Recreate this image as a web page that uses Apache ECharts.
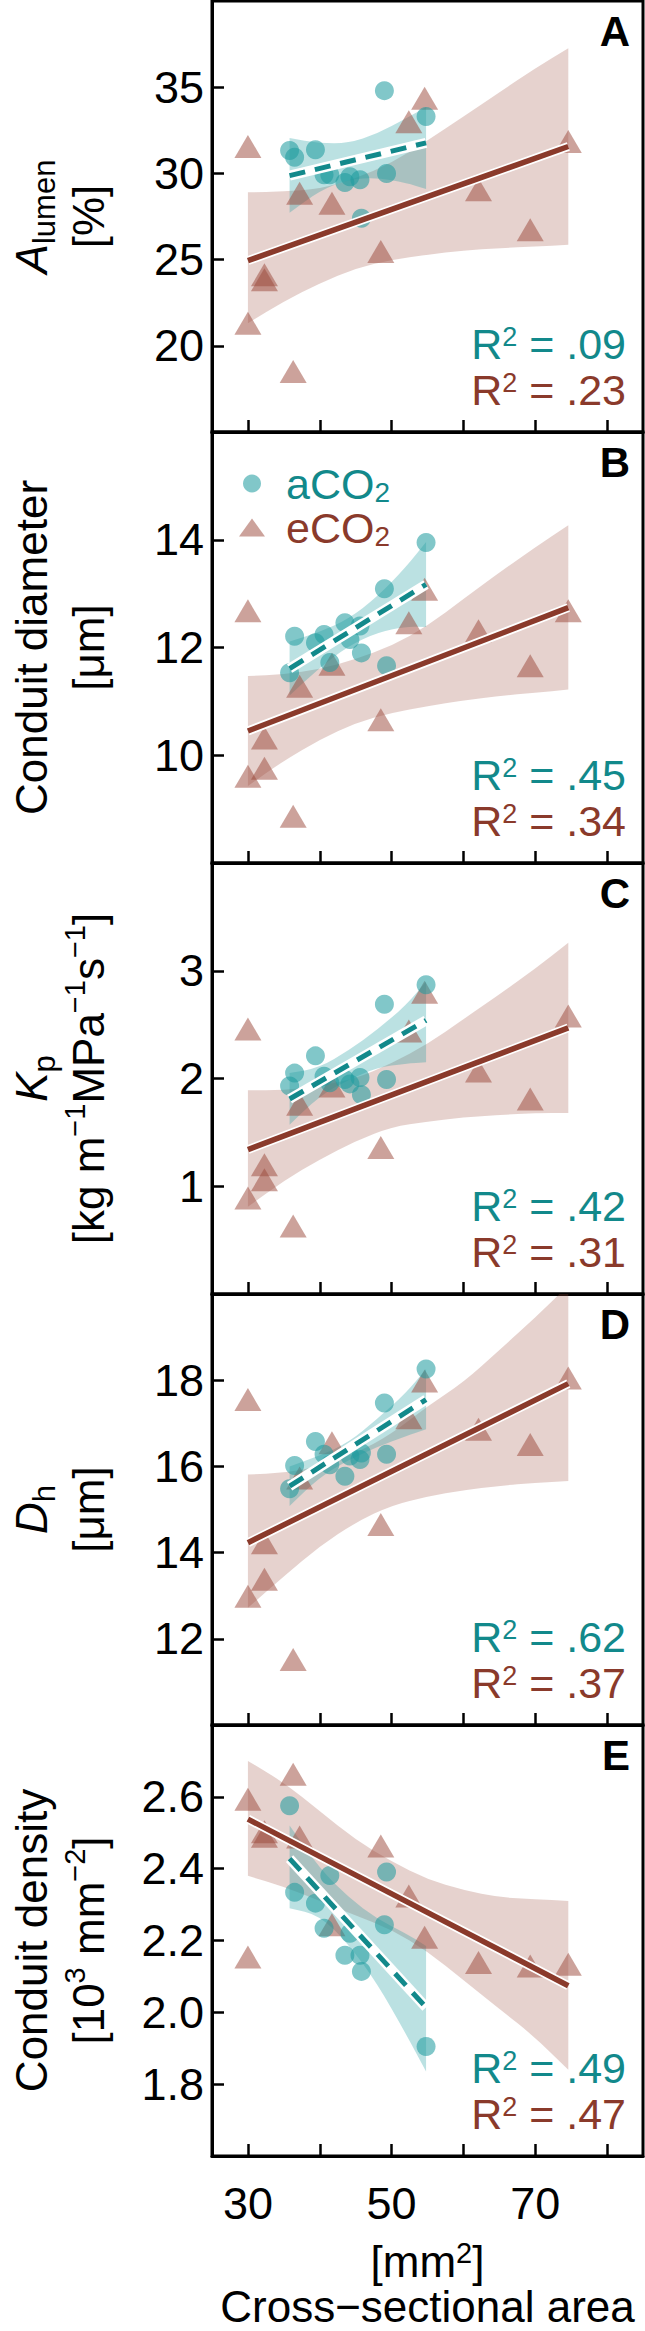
<!DOCTYPE html>
<html><head><meta charset="utf-8">
<script src="https://cdn.jsdelivr.net/npm/echarts@6/dist/echarts.min.js"></script>
<style>html,body{margin:0;padding:0;background:#fff}#c{width:645px;height:2331px}</style>
</head><body><div id="c"></div>
<script>
// ---- data ----
const aX = [35.8, 36.5, 39.4, 40.6, 41.4, 43.5, 44.2, 45.6, 45.8, 49.0, 49.3, 54.8];
const eX = [30.0, 30.0, 32.3, 32.3, 36.3, 37.2, 41.7, 48.5, 52.4, 54.6, 62.1, 69.3, 74.6];

const aY_A = [31.33, 30.94, 31.37, 29.92, 29.92, 29.47, 29.8, 29.63, 27.4, 34.8, 30.0, 33.3];
const eY_A = [31.56, 21.31, 24.12, 23.83, 18.51, 28.85, 28.27, 25.47, 33.0, 34.36, 29.05, 26.73, 31.85];
const aY_B = [11.53, 12.21, 12.09, 12.24, 11.72, 12.46, 12.15, 12.40, 11.90, 13.09, 11.66, 13.95];
const eY_B = [12.68, 9.61, 10.32, 9.76, 8.87, 11.28, 11.69, 10.66, 12.46, 13.08, 12.31, 11.66, 12.68];
const aY_C = [1.93, 2.05, 2.21, 2.02, 1.96, 1.99, 1.95, 2.01, 1.85, 2.69, 1.99, 2.87];
const eY_C = [2.46, 0.89, 1.20, 1.06, 0.63, 1.76, 1.93, 1.36, 2.44, 2.80, 2.07, 1.81, 2.58];
const aY_D = [15.48, 16.02, 16.58, 16.28, 16.04, 15.77, 16.24, 16.16, 16.31, 17.47, 16.28, 18.26];
const eY_D = [17.55, 12.99, 14.23, 13.38, 11.52, 15.73, 16.55, 14.65, 17.13, 17.98, 16.86, 16.51, 18.05];
const aY_E = [2.575, 2.334, 2.304, 2.234, 2.381, 2.159, 2.22, 2.159, 2.114, 2.244, 2.391, 1.905];
const eY_E = [2.593, 2.154, 2.503, 2.49, 2.663, 2.488, 2.244, 2.463, 2.324, 2.209, 2.139, 2.129, 2.134];

// fitted lines (ends)
const aFitX = [35.8, 54.8];
const eFitX = [30.0, 74.6];
const aFit_A = [29.87, 31.77], eFit_A = [24.94, 31.56];
const aFit_B = [11.61, 13.17], eFit_B = [10.45, 12.74];
const aFit_C = [1.81, 2.54],   eFit_C = [1.34, 2.47];
const aFit_D = [15.54, 17.55], eFit_D = [14.23, 17.92];
const aFit_E = [2.428, 2.014], eFit_E = [2.538, 2.074];

// confidence bands, edges
const aBandX = [35.8, 40, 44, 48, 52, 54.8];
const eBandX = [30, 35, 40, 45, 50, 55, 60, 65, 70, 74.6];
const aLo_A = [27.72, 29.0, 29.65, 29.75, 29.45, 29.1],  aHi_A = [32.05, 31.75, 31.75, 32.3, 33.2, 33.85];
const eLo_A = [21.31, 22.57, 23.63, 24.5, 24.99, 25.28, 25.53, 25.66, 25.76, 25.86];
const eHi_A = [28.9, 28.95, 29.1, 29.7, 30.6, 31.9, 33.3, 34.7, 36.1, 37.26];
const aLo_B = [11.11, 11.63, 12.03, 12.28, 12.39, 12.38], aHi_B = [12.11, 12.29, 12.53, 12.94, 13.49, 13.96];
const eLo_B = [9.43, 9.9, 10.29, 10.6, 10.79, 10.91, 11.02, 11.1, 11.16, 11.22];
const eHi_B = [11.47, 11.5, 11.6, 11.78, 12.03, 12.4, 12.9, 13.39, 13.86, 14.27];
const aLo_C = [1.57, 1.84, 1.99, 2.1, 2.14, 2.15], aHi_C = [2.05, 2.1, 2.26, 2.45, 2.68, 2.9];
const eLo_C = [0.81, 1.05, 1.25, 1.42, 1.55, 1.6, 1.64, 1.66, 1.68, 1.68];
const eHi_C = [1.89, 1.89, 1.93, 2.0, 2.14, 2.32, 2.55, 2.78, 3.02, 3.26];
const aLo_D = [15.08, 15.75, 16.15, 16.45, 16.7, 16.86], aHi_D = [16.0, 16.25, 16.55, 17.1, 17.7, 18.26];
const eLo_D = [12.72, 13.45, 14.15, 14.7, 15.1, 15.3, 15.45, 15.55, 15.62, 15.66];
const eHi_D = [15.81, 15.85, 16.0, 16.3, 16.75, 17.4, 17.95, 18.7, 19.45, 20.2];
const aLo_E = [2.29, 2.27, 2.19, 2.08, 1.94, 1.835], aHi_E = [2.52, 2.40, 2.32, 2.26, 2.22, 2.185];
const eLo_E = [2.38, 2.35, 2.31, 2.27, 2.23, 2.17, 2.09, 2.01, 1.93, 1.84];
const eHi_E = [2.70, 2.64, 2.56, 2.48, 2.42, 2.37, 2.34, 2.32, 2.315, 2.31];

const yMin = [15, 8, 0, 10, 1.6];
const yMax = [40, 16, 4, 20, 2.8];
const yStep = [5, 2, 1, 2, 0.2];
const xTicks = [30, 40, 50, 60, 70, 80];
const xLabels = [30, 50, 70];
const letters = ['A', 'B', 'C', 'D', 'E'];
const r2A = ['.09', '.45', '.42', '.62', '.49'];
const r2E = ['.23', '.34', '.31', '.37', '.47'];
const yTitles = [
  '{i|A}{sub|lumen}\n{n|[%]}',
  '{n|Conduit diameter}\n{n|[μm]}',
  '{i|K}{sub|p}\n{n|[kg m}{sup|−1}{n|MPa}{sup|−1}{n|s}{sup|−1}{n|]}',
  '{i|D}{sub|h}\n{n|[μm]}',
  '{n|Conduit density}\n{n|[10}{sup|3}{n| mm}{sup|−2}{n|]}'
];

const P = [
  {aY:aY_A, eY:eY_A, aF:aFit_A, eF:eFit_A, aLo:aLo_A, aHi:aHi_A, eLo:eLo_A, eHi:eHi_A},
  {aY:aY_B, eY:eY_B, aF:aFit_B, eF:eFit_B, aLo:aLo_B, aHi:aHi_B, eLo:eLo_B, eHi:eHi_B},
  {aY:aY_C, eY:eY_C, aF:aFit_C, eF:eFit_C, aLo:aLo_C, aHi:aHi_C, eLo:eLo_C, eHi:eHi_C},
  {aY:aY_D, eY:eY_D, aF:aFit_D, eF:eFit_D, aLo:aLo_D, aHi:aHi_D, eLo:eLo_D, eHi:eHi_D},
  {aY:aY_E, eY:eY_E, aF:aFit_E, eF:eFit_E, aLo:aLo_E, aHi:aHi_E, eLo:eLo_E, eHi:eHi_E}
];

// ---- styling ----
const FONT = '"Liberation Sans", Arial, Helvetica, sans-serif';
const TEAL = '#12898b', BROWN = '#8a3a2b';
const TEAL_PT = 'rgba(31,156,158,0.70)', BROWN_PT = 'rgba(156,74,60,0.64)';
const TEAL_BAND = 'rgba(31,156,158,0.30)', BROWN_BAND = 'rgba(156,74,60,0.25)';
const GL = 212, GW = 431, GH = 431, GT0 = 1;
const FS = 45;      // tick labels
const FT = 44;      // y titles

const chart = echarts.init(document.getElementById('c'), null, {renderer: 'svg'});

function smoothSeg(pts) {
  let d = '';
  const n = pts.length;
  const mid = (p, q) => [(p[0] + q[0]) / 2, (p[1] + q[1]) / 2];
  const m = mid(pts[0], pts[1]);
  d += ' L' + m[0] + ',' + m[1];
  for (let k = 1; k < n - 1; k++) {
    const m2 = mid(pts[k], pts[k + 1]);
    d += ' Q' + pts[k][0] + ',' + pts[k][1] + ' ' + m2[0] + ',' + m2[1];
  }
  d += ' L' + pts[n - 1][0] + ',' + pts[n - 1][1];
  return d;
}
function bandSeries(i, xs, lo, hi, color, z) {
  return {type: 'custom', name: 'band', xAxisIndex: i, yAxisIndex: i, silent: true, clip: true, z: z,
    data: [[xs[0], lo[0]]],
    renderItem: function (params, api) {
      const up = xs.map((x, k) => api.coord([x, hi[k]]));
      const dn = xs.map((x, k) => api.coord([x, lo[k]])).reverse();
      const d = 'M' + up[0][0] + ',' + up[0][1] + smoothSeg(up) +
                ' L' + dn[0][0] + ',' + dn[0][1] + smoothSeg(dn) + ' Z';
      return {type: 'path', shape: {pathData: d}, style: {fill: color}};
    }};
}

const grids = [], xAxes = [], yAxes = [], series = [], graphics = [];
P.forEach((p, i) => {
  const top = GT0 + i * GH;
  grids.push({left: GL, top: top, width: GW, height: GH, show: true, borderColor: '#000', borderWidth: 3, backgroundColor: 'transparent'});
  xAxes.push({type: 'value', gridIndex: i, min: 25, max: 85,
    axisLine: {show: true, onZero: false, lineStyle: {color: '#000', width: 3}},
    axisTick: {show: true, inside: true, length: 12, customValues: xTicks, lineStyle: {color: '#000', width: 2.5}},
    axisLabel: {show: i === 4, customValues: xLabels, margin: 25, fontSize: FS, color: '#000', fontFamily: FONT},
    splitLine: {show: false}});
  yAxes.push({type: 'value', gridIndex: i, min: yMin[i], max: yMax[i], interval: yStep[i],
    axisLine: {show: true, onZero: false, lineStyle: {color: '#000', width: 3}},
    axisTick: {show: true, inside: true, length: 12, lineStyle: {color: '#000', width: 2.5}},
    axisLabel: {showMinLabel: false, showMaxLabel: false, margin: 8, fontSize: FS, color: '#000', fontFamily: FONT,
      formatter: i === 4 ? (v => v.toFixed(1)) : (v => String(v))},
    splitLine: {show: false}});

  const common = {xAxisIndex: i, yAxisIndex: i, silent: true, animation: false};
  series.push(bandSeries(i, eBandX, p.eLo, p.eHi, BROWN_BAND, 1));
  series.push(bandSeries(i, aBandX, p.aLo, p.aHi, TEAL_BAND, 2));
  series.push(Object.assign({type: 'scatter', name: 'eCO2', symbol: 'triangle', symbolSize: [27, 23], z: 3,
    itemStyle: {color: BROWN_PT}, data: eX.map((x, k) => [x, p.eY[k]])}, common));
  series.push(Object.assign({type: 'scatter', name: 'aCO2', symbol: 'circle', symbolSize: 19, z: 4,
    itemStyle: {color: TEAL_PT}, data: aX.map((x, k) => [x, p.aY[k]])}, common));
  const eLine = eFitX.map((x, k) => [x, p.eF[k]]);
  const aLine = aFitX.map((x, k) => [x, p.aF[k]]);
  series.push(Object.assign({type: 'line', name: 'fit', symbol: 'none', z: 5, lineStyle: {color: '#fff', width: 9}, data: eLine}, common));
  series.push(Object.assign({type: 'line', name: 'fit', symbol: 'none', z: 6, lineStyle: {color: BROWN, width: 5.5}, data: eLine}, common));
  series.push(Object.assign({type: 'line', name: 'fit', symbol: 'none', z: 5, lineStyle: {color: '#fff', width: 10}, data: aLine}, common));
  series.push(Object.assign({type: 'line', name: 'fit', symbol: 'none', z: 6, lineStyle: {color: TEAL, width: 5, type: [16, 10]}, data: aLine}, common));

  graphics.push({type: 'text', x: 630, y: top + 30, z: 100,
    style: {text: letters[i], fontSize: 42, fontWeight: 'bold', fontFamily: FONT, fill: '#000', align: 'right', verticalAlign: 'middle'}});
  const bot = top + GH;
  [[r2A[i], TEAL, bot - 88], [r2E[i], BROWN, bot - 42]].forEach(([v, col, y]) => {
    graphics.push({type: 'text', x: 626, y: y, z: 100,
      style: {text: '{r|R}{s|2}{r| = ' + v + '}', align: 'right', verticalAlign: 'middle', fill: col, fontFamily: FONT,
        rich: {r: {fontSize: 43, lineHeight: 42, fill: col, fontFamily: FONT},
               s: {fontSize: 27, lineHeight: 22, verticalAlign: 'top', fill: col, fontFamily: FONT}}}});
  });
  graphics.push({type: 'text', x: 60, y: top + GH / 2, rotation: Math.PI / 2, z: 100,
    style: {text: yTitles[i], align: 'center', verticalAlign: 'middle', fill: '#000', fontFamily: FONT,
      rich: {n: {fontSize: FT, lineHeight: 57, fill: '#000', fontFamily: FONT},
             i: {fontSize: FT, lineHeight: 57, fontStyle: 'italic', fill: '#000', fontFamily: FONT},
             sub: {fontSize: 31, lineHeight: 30, verticalAlign: 'bottom', fill: '#000', fontFamily: FONT},
             sup: {fontSize: 29, lineHeight: 28, verticalAlign: 'top', fill: '#000', fontFamily: FONT}}}});
});

graphics.push({type: 'text', x: GL + GW / 2, y: 2261, z: 100,
  style: {text: '{n|[mm}{s|2}{n|]}', align: 'center', verticalAlign: 'middle', fill: '#000', fontFamily: FONT,
    rich: {n: {fontSize: 44, lineHeight: 46, fill: '#000', fontFamily: FONT},
           s: {fontSize: 29, lineHeight: 24, verticalAlign: 'top', fill: '#000', fontFamily: FONT}}}});
graphics.push({type: 'text', x: GL + GW / 2, y: 2306, z: 100,
  style: {text: 'Cross−sectional area', align: 'center', verticalAlign: 'middle', fill: '#000', fontSize: 44, fontFamily: FONT}});

const option = {
  animation: false,
  backgroundColor: '#fff',
  textStyle: {fontFamily: FONT},
  grid: grids, xAxis: xAxes, yAxis: yAxes, series: series,
  legend: {data: ['aCO2', 'eCO2'], orient: 'vertical', left: 234, top: 457, itemWidth: 26, itemHeight: 18, itemGap: 0,
    symbolKeepAspect: false, selectedMode: false,
    formatter: n => n === 'aCO2' ? '{ta|aCO}{sa|2}' : '{te|eCO}{se|2}',
    textStyle: {padding: [0, 0, 0, 16], rich: {
      ta: {fontSize: 43, lineHeight: 45, color: TEAL, fontFamily: FONT},
      sa: {fontSize: 28, lineHeight: 18, verticalAlign: 'bottom', color: TEAL, fontFamily: FONT},
      te: {fontSize: 43, lineHeight: 45, color: BROWN, fontFamily: FONT},
      se: {fontSize: 28, lineHeight: 18, verticalAlign: 'bottom', color: BROWN, fontFamily: FONT}}}},
  graphic: graphics
};
chart.setOption(option);
</script></body></html>
